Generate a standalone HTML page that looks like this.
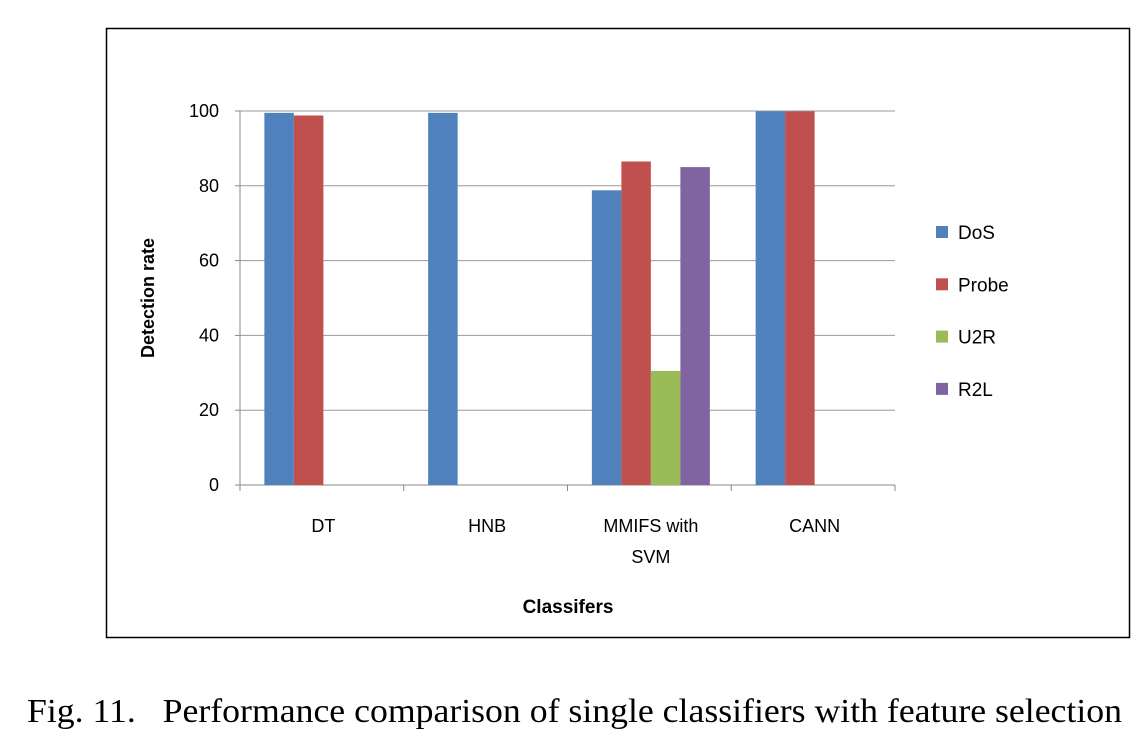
<!DOCTYPE html>
<html><head><meta charset="utf-8"><style>
body{margin:0;background:#fff;width:1138px;height:740px;overflow:hidden}
svg text{font-family:"Liberation Sans",sans-serif}
</style></head><body>
<svg width="1138" height="740">
<rect x="106.5" y="28.5" width="1023" height="609" fill="#fff" stroke="#000" stroke-width="1.5"/>
<g id="grid"></g><g id="bars"></g><g id="labels"></g>
<text x="0" y="0" transform="translate(154,298) rotate(-90)" text-anchor="middle" font-size="18" font-weight="bold">Detection rate</text>
<text x="568" y="613" text-anchor="middle" font-size="19" font-weight="bold">Classifers</text>
<g id="legend"></g>
<text x="27" y="722" font-size="34" textLength="1095" lengthAdjust="spacingAndGlyphs" style="font-family:'Liberation Serif',serif">Fig. 11.&#160;&#160;&#160;Performance comparison of single classifiers with feature selection</text>
</svg>
<script>
const categories=[["DT"],["HNB"],["MMIFS with","SVM"],["CANN"]];
const seriesNames=["DoS","Probe","U2R","R2L"];
const colors=["#4f81bd","#c0504d","#9bbb59","#8064a2"];
const dos=[99.5,99.5,78.8,99.9];
const probe=[98.8,0,86.5,99.9];
const u2r=[0,0,30.5,0];
const r2l=[0,0,85,0];
const yTicks=[0,20,40,60,80,100];
const series=[dos,probe,u2r,r2l];
const NS="http://www.w3.org/2000/svg";
const x0=240,x1=895,yBase=485,yTop=111;
const y=v=>yBase-(v/100)*(yBase-yTop);
const band=(x1-x0)/categories.length;
const bw=29.5;
function mk(t,a,p){const e=document.createElementNS(NS,t);for(const k in a)e.setAttribute(k,a[k]);p.appendChild(e);return e;}
const grid=document.getElementById('grid'),bars=document.getElementById('bars'),labels=document.getElementById('labels'),legend=document.getElementById('legend');
yTicks.forEach(t=>{
 const l=mk('line',{x1:x0,x2:x1,y1:y(t),y2:y(t),stroke:t===0?'#888':'#999','stroke-width':1},grid);
 
 
 const tx=mk('text',{x:219,y:y(t)+6,'text-anchor':'end','font-size':18},labels);
 tx.textContent=t;
 
 
 const tk=mk('line',{x1:x0-5,x2:x0,y1:y(t),y2:y(t),stroke:'#888'},grid);
 
 
});
const ax=mk('line',{x1:x0,x2:x0,y1:yTop,y2:yBase,stroke:'#888'},grid);


for(let i=0;i<=categories.length;i++){
 const tk=mk('line',{x1:x0+i*band,x2:x0+i*band,y1:yBase,y2:yBase+6,stroke:'#888'},grid);
 
 
}
categories.forEach((c,i)=>{
 const cx=x0+band*(i+0.5)+1.5;
 series.forEach((s,j)=>{
  if(!s[i])return;
  const r=mk('rect',{x:cx-2*bw+j*bw,y:y(s[i]),width:bw,height:yBase-y(s[i]),fill:colors[j]},bars);
  
  
 });
 c.forEach((line,k)=>{
  const t=mk('text',{x:cx,y:532+k*31,'text-anchor':'middle','font-size':18},labels);
  t.textContent=line;
  
  
 });
});
seriesNames.forEach((n,j)=>{
 const yy=232+j*52.3;
 const r=mk('rect',{x:936,y:yy-6,width:12,height:12,fill:colors[j]},legend);
 
 
 const t=mk('text',{x:958,y:yy+7,'font-size':19},legend);
 t.textContent=n;
 
 
});
</script>
</body></html>
